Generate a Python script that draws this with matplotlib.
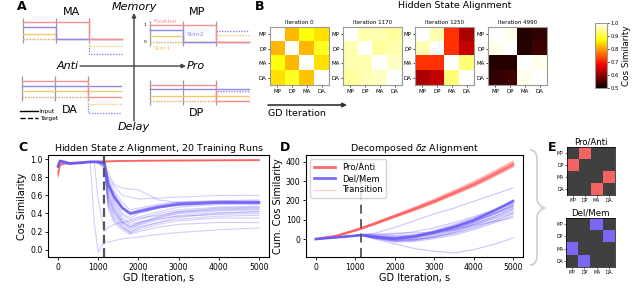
import matplotlib
matplotlib.use('Agg')
import matplotlib.pyplot as plt
from matplotlib.colors import ListedColormap
from matplotlib.lines import Line2D
from matplotlib.path import Path
from matplotlib.patches import PathPatch

W, H = 640, 298

# ---------------- data ----------------
# panel A: schematic task signals over three epochs
epochs = [0, 1, 2, 3]
quad_tasks = ['MA', 'MP', 'DA', 'DP']
fixation = {'MA': [1, 1, 0], 'MP': [1, 1, 0], 'DA': [1, 1, 0], 'DP': [1, 1, 0]}
stim2 = {'MA': [0.7, 0, 0], 'MP': [0.7, 0, 0], 'DA': [0.69, 0.69, 0.69], 'DP': [0.75, 0.75, 0.75]}
stim1 = {'MA': [0.31, 0, 0], 'MP': [0.35, 0, 0], 'DA': [0.38, 0.38, 0.38], 'DP': [0.32, 0.32, 0.32]}
target2 = {'MA': [0, 0, -0.88], 'MP': [0, 0, 0.65], 'DA': [0, 0, -0.94], 'DP': [0, 0, 0.62]}
target1 = {'MA': [0, 0, -0.44], 'MP': [0, 0, 0.4], 'DA': [0, 0, -0.44], 'DP': [0, 0, 0.0]}

# panel B: hidden state alignment matrices
task_order = ['MP', 'DP', 'MA', 'DA']
iter_labels = ['Iteration 0', 'Iteration 1170', 'Iteration 1250', 'Iteration 4990']
sim_iter0 = [[1.00, 0.82, 0.88, 0.85],
             [0.82, 1.00, 0.82, 0.89],
             [0.88, 0.82, 1.00, 0.85],
             [0.85, 0.89, 0.83, 1.00]]
sim_iter1170 = [[1.00, 0.96, 0.96, 0.95],
                [0.96, 1.00, 0.95, 0.96],
                [0.96, 0.96, 1.00, 0.97],
                [0.95, 0.96, 0.97, 1.00]]
sim_iter1250 = [[1.00, 0.96, 0.72, 0.62],
                [0.96, 1.00, 0.72, 0.64],
                [0.72, 0.72, 1.00, 0.93],
                [0.62, 0.64, 0.93, 1.00]]
sim_iter4990 = [[1.00, 0.99, 0.52, 0.53],
                [0.99, 1.00, 0.52, 0.54],
                [0.52, 0.52, 1.00, 0.99],
                [0.53, 0.54, 0.99, 1.00]]

# panel C: hidden state alignment, 20 runs
c_iters = [0, 50, 300, 600, 800, 900, 1000, 1150, 1250, 1400, 1600, 1800, 2000, 2500, 3000, 4000, 5000]
c_del_runs = [
    [0.92, 0.98, 0.95, 0.96, 0.97, 0.97, 0.97, 0.96, 0.75, 0.62, 0.48, 0.40, 0.44, 0.48, 0.52, 0.53, 0.53],
    [0.91, 0.98, 0.95, 0.96, 0.97, 0.97, 0.97, 0.96, 0.72, 0.58, 0.45, 0.38, 0.42, 0.47, 0.51, 0.53, 0.53],
    [0.93, 0.98, 0.96, 0.96, 0.97, 0.97, 0.97, 0.97, 0.78, 0.65, 0.52, 0.44, 0.46, 0.50, 0.53, 0.54, 0.54],
    [0.92, 0.97, 0.95, 0.96, 0.97, 0.97, 0.97, 0.95, 0.70, 0.55, 0.40, 0.35, 0.40, 0.46, 0.50, 0.52, 0.52],
    [0.92, 0.98, 0.95, 0.96, 0.97, 0.97, 0.97, 0.97, 0.80, 0.70, 0.60, 0.58, 0.56, 0.57, 0.58, 0.60, 0.60],
    [0.91, 0.98, 0.95, 0.96, 0.97, 0.97, 0.97, 0.95, 0.65, 0.50, 0.35, 0.30, 0.33, 0.40, 0.44, 0.47, 0.48],
    [0.92, 0.98, 0.95, 0.96, 0.97, 0.97, 0.96, 0.94, 0.60, 0.45, 0.30, 0.25, 0.30, 0.37, 0.42, 0.45, 0.46],
    [0.92, 0.97, 0.95, 0.96, 0.97, 0.97, 0.96, 0.93, 0.55, 0.40, 0.28, 0.22, 0.28, 0.35, 0.40, 0.43, 0.44],
    [0.93, 0.98, 0.95, 0.96, 0.97, 0.97, 0.97, 0.95, 0.58, 0.42, 0.30, 0.24, 0.27, 0.33, 0.38, 0.41, 0.42],
    [0.92, 0.98, 0.95, 0.96, 0.97, 0.97, 0.97, 0.96, 0.62, 0.47, 0.33, 0.28, 0.30, 0.34, 0.37, 0.39, 0.40],
    [0.92, 0.98, 0.95, 0.96, 0.97, 0.97, 0.96, 0.92, 0.50, 0.35, 0.25, 0.20, 0.25, 0.30, 0.34, 0.37, 0.38],
    [0.91, 0.97, 0.95, 0.96, 0.97, 0.97, 0.96, 0.93, 0.52, 0.38, 0.26, 0.18, 0.22, 0.28, 0.32, 0.35, 0.35],
    [0.92, 0.98, 0.95, 0.96, 0.97, 0.97, 0.95, 0.90, 0.45, 0.30, 0.22, 0.17, 0.20, 0.25, 0.28, 0.30, 0.30],
    [0.92, 0.98, 0.95, 0.96, 0.97, 0.97, 0.97, 0.96, 0.68, 0.52, 0.38, 0.33, 0.36, 0.42, 0.47, 0.50, 0.50],
    [0.93, 0.98, 0.96, 0.96, 0.97, 0.97, 0.97, 0.96, 0.74, 0.60, 0.46, 0.41, 0.44, 0.49, 0.52, 0.54, 0.55],
    [0.92, 0.98, 0.95, 0.96, 0.97, 0.97, 0.96, 0.92, 0.48, 0.32, 0.24, 0.19, 0.24, 0.30, 0.36, 0.40, 0.42],
    [0.92, 0.98, 0.95, 0.96, 0.97, 0.97, 0.97, 0.97, 0.85, 0.72, 0.68, 0.67, 0.66, 0.55, 0.52, 0.53, 0.53],
    [0.92, 0.98, 0.95, 0.96, 0.97, 0.30, -0.03, 0.10, 0.08, 0.10, 0.12, 0.13, 0.14, 0.17, 0.19, 0.22, 0.24],
    [0.92, 0.98, 0.95, 0.96, 0.97, 0.97, 0.55, 0.20, 0.25, 0.28, 0.30, 0.32, 0.35, 0.38, 0.42, 0.46, 0.47],
    [0.92, 0.98, 0.95, 0.96, 0.97, 0.97, 0.96, 0.93, 0.57, 0.43, 0.31, 0.26, 0.29, 0.36, 0.41, 0.44, 0.45],
]
c_del_mean = [0.92, 0.98, 0.95, 0.96, 0.97, 0.97, 0.97, 0.96, 0.72, 0.58, 0.46, 0.40, 0.42, 0.47, 0.50, 0.52, 0.52]

c_red_iters = [0, 50, 150, 300, 600, 1000, 1150, 1500, 2000, 3000, 5000]
c_pro_runs = [
    [0.80, 0.93, 0.95, 0.95, 0.96, 0.97, 0.97, 0.98, 0.98, 0.985, 0.99],
    [0.83, 0.94, 0.95, 0.96, 0.96, 0.97, 0.98, 0.98, 0.985, 0.985, 0.99],
    [0.85, 0.94, 0.96, 0.96, 0.97, 0.97, 0.97, 0.975, 0.98, 0.98, 0.985],
    [0.82, 0.93, 0.94, 0.95, 0.96, 0.96, 0.97, 0.975, 0.98, 0.985, 0.99],
    [0.86, 0.95, 0.96, 0.96, 0.97, 0.975, 0.98, 0.98, 0.985, 0.99, 0.99],
    [0.84, 0.93, 0.95, 0.95, 0.96, 0.97, 0.97, 0.98, 0.98, 0.98, 0.985],
]

# panel D: cumulative decomposed alignment
d_iters = [0, 500, 1000, 1150, 1500, 2000, 2500, 3000, 3500, 4000, 4500, 5000]
d_pro_runs = [
    [0, 16, 48, 58, 85, 125, 165, 207, 252, 298, 350, 404],
    [0, 15, 46, 56, 82, 121, 160, 200, 244, 290, 342, 396],
    [0, 15, 45, 55, 80, 118, 156, 196, 240, 285, 336, 390],
    [0, 14, 44, 54, 78, 115, 152, 191, 234, 278, 328, 380],
    [0, 14, 43, 53, 76, 112, 148, 186, 228, 271, 320, 372],
    [0, 15, 46, 57, 83, 122, 161, 202, 247, 293, 345, 399],
    [0, 14, 44, 53, 77, 114, 150, 188, 231, 274, 324, 376],
]
d_pro_mean = [0, 15, 45, 55, 80, 118, 155, 195, 238, 282, 333, 385]
d_del_runs = [
    [0, 10, 18, 22, 30, 60, 95, 130, 160, 195, 230, 264],
    [0, 8, 17, 20, 10, 5, 20, 45, 75, 110, 150, 200],
    [0, 8, 16, 19, 8, -2, 8, 34, 60, 97, 145, 195],
    [0, 9, 18, 21, 12, 2, 15, 40, 70, 105, 145, 190],
    [0, 7, 15, 18, 5, -8, 0, 22, 48, 85, 130, 180],
    [0, 9, 19, 23, 18, 12, 20, 35, 55, 85, 125, 170],
    [0, 8, 17, 20, 6, -10, -5, 15, 40, 75, 115, 160],
    [0, 10, 20, 24, 22, 18, 22, 32, 50, 80, 115, 155],
    [0, 7, 16, 19, 4, -12, -8, 10, 35, 68, 108, 150],
    [0, 8, 17, 21, 14, 8, 12, 25, 45, 75, 105, 140],
    [0, 9, 18, 22, 10, -5, -2, 12, 32, 60, 95, 135],
    [0, 8, 16, 20, 8, -6, -4, 8, 28, 55, 90, 130],
    [0, 7, 15, 18, 2, -15, -12, 2, 20, 48, 82, 120],
    [0, 9, 19, 24, 25, 30, 32, 35, 48, 70, 90, 110],
    [0, 8, 17, 20, 0, -25, -50, -63, -72, -55, -28, 5],
    [0, 8, 17, 21, 12, 4, 14, 38, 66, 100, 140, 185],
    [0, 9, 18, 22, 16, 10, 18, 36, 62, 95, 135, 175],
    [0, 8, 16, 20, 6, -4, 5, 28, 55, 90, 130, 172],
    [0, 8, 17, 21, 10, 0, 10, 30, 58, 92, 128, 165],
    [0, 10, 19, 23, 20, 25, 38, 58, 85, 115, 150, 185],
]
d_del_mean = [0, 8, 17, 21, 11, 2, 12, 35, 62, 97, 145, 197]
transition_iter = 1150

# panel E: decomposition masks
pro_anti_mask = [[0, 1, 0, 0], [1, 0, 0, 0], [0, 0, 0, 1], [0, 0, 1, 0]]
del_mem_mask = [[0, 0, 1, 0], [0, 0, 0, 1], [1, 0, 0, 0], [0, 1, 0, 0]]

RED = '#ff5a5a'
PURPLE = '#6b5cf6'
FIX_C, STIM2_C, STIM1_C = '#f59090', '#8f86f2', '#f6c76e'


def box(x0, y0, x1, y1):
    # pixel box (top-left origin) -> figure rect
    return [x0 / W, 1 - y1 / H, (x1 - x0) / W, (y1 - y0) / H]


fig = plt.figure(figsize=(6.4, 2.98), dpi=100)


def ftxt(x, y, s, **kw):
    fig.text(x / W, 1 - y / H, s, **kw)


# overlay for arrows / brace
ov = fig.add_axes([0, 0, 1, 1])
ov.set_xlim(0, W)
ov.set_ylim(H, 0)
ov.axis('off')

# ---------------- panel A ----------------
ux, uy = 33, 16.5
anchors = {'MA': (23, 39), 'MP': (150, 42), 'DA': (22, 97), 'DP': (150, 101)}
for task in quad_tasks:
    x0, z0 = anchors[task]
    ax = fig.add_axes(box(x0 - 0.1 * ux, z0 - 1.5 * uy, x0 + 3.05 * ux, z0 + 1.2 * uy))
    ax.set_xlim(-0.1, 3.05)
    ax.set_ylim(-1.2, 1.5)
    ax.axis('off')
    ax.vlines(epochs[:3], -0.25, 1.3, color='#999999', lw=0.9)
    ax.step(epochs, target2[task] + [target2[task][-1]], where='post', color=STIM2_C, lw=0.9, ls=(0, (1.2, 1)))
    ax.step(epochs, target1[task] + [target1[task][-1]], where='post', color=STIM1_C, lw=0.9, ls=(0, (1.2, 1)))
    ax.step(epochs, stim1[task] + [stim1[task][-1]], where='post', color=STIM1_C, lw=1.0)
    ax.step(epochs, stim2[task] + [stim2[task][-1]], where='post', color=STIM2_C, lw=1.0)
    ax.step(epochs, fixation[task] + [fixation[task][-1]], where='post', color=FIX_C, lw=1.0)
    if task == 'MP':
        ax.text(-0.12, 1, '1', fontsize=3.2, ha='right', va='center')
        ax.text(-0.12, 0, '0', fontsize=3.2, ha='right', va='center')
        ax.text(0.1, 1.25, 'Fixation', fontsize=4.3, color=FIX_C, va='center')
        ax.text(1.1, 0.45, 'Stim2', fontsize=4.3, color=STIM2_C, va='center')
        ax.text(0.1, -0.42, 'Stim1', fontsize=4.3, color=STIM1_C, va='center')

ftxt(72, 12, 'MA', fontsize=8, ha='center', va='center')
ftxt(197, 12, 'MP', fontsize=8, ha='center', va='center')
ftxt(70, 110, 'DA', fontsize=8, ha='center', va='center')
ftxt(197, 113, 'DP', fontsize=8, ha='center', va='center')
ftxt(17, 6, 'A', fontsize=9, fontweight='bold', va='center')

arrow_kw = dict(arrowstyle='-|>', color='#404040', lw=1.0, mutation_scale=6, shrinkA=0, shrinkB=0)
ov.annotate('', xy=(134, 13), xytext=(134, 121), arrowprops=arrow_kw)
ov.annotate('', xy=(186, 66), xytext=(80, 66), arrowprops=arrow_kw)
ftxt(134, 7, 'Memory', fontsize=8, style='italic', ha='center', va='center')
ftxt(134, 127, 'Delay', fontsize=8, style='italic', ha='center', va='center')
ftxt(79, 66, 'Anti', fontsize=8, style='italic', ha='right', va='center')
ftxt(187, 66, 'Pro', fontsize=8, style='italic', ha='left', va='center')

ov.legend(handles=[Line2D([], [], color='k', lw=1), Line2D([], [], color='k', lw=1, ls='--')],
          labels=['Input', 'Target'], loc='upper left', bbox_to_anchor=(20 / W, 1 - 109 / H),
          fontsize=4.2, frameon=False, handlelength=3.0, handletextpad=0.4,
          labelspacing=0.25, borderpad=0, borderaxespad=0)

# ---------------- panel B ----------------
ftxt(255, 6, 'B', fontsize=9, fontweight='bold', va='center')
ftxt(455, 6, 'Hidden State Alignment', fontsize=6.8, ha='center', va='center')
mats = [sim_iter0, sim_iter1170, sim_iter1250, sim_iter4990]
hm_x = [270, 343, 415, 488]
for xs, m, lab in zip(hm_x, mats, iter_labels):
    ax = fig.add_axes(box(xs, 25, xs + 59, 87))
    im = ax.imshow(m, cmap='hot', vmin=0.5, vmax=1.0)
    ax.set_title(lab, fontsize=4, pad=1.5)
    ax.set_xticks(range(4))
    ax.set_xticklabels(task_order)
    ax.set_yticks(range(4))
    ax.set_yticklabels(task_order)
    ax.tick_params(labelsize=4, length=1.5, width=0.5, pad=1)
    for s in ax.spines.values():
        s.set_color('#999999')
        s.set_linewidth(0.8)
cax = fig.add_axes(box(595, 23, 607, 88))
cb = fig.colorbar(im, cax=cax)
cb.set_ticks([0.5, 0.6, 0.7, 0.8, 0.9, 1.0])
cax.tick_params(labelsize=3.8, length=1.5, width=0.5, pad=1)
cb.outline.set_edgecolor('#999999')
cb.set_label('Cos Similarity', fontsize=6.3, labelpad=2)

ov.annotate('', xy=(347, 105), xytext=(268, 105),
            arrowprops=dict(arrowstyle='-|>', color='#333333', lw=1.2, mutation_scale=6, shrinkA=0, shrinkB=0))
ftxt(268, 114, 'GD Iteration', fontsize=6.8, ha='left', va='center')

# ---------------- panel C ----------------
axc = fig.add_axes(box(48, 155, 269, 257))
for run in c_pro_runs:
    axc.plot(c_red_iters, run, color=RED, lw=0.9, alpha=0.45)
for run in c_del_runs:
    axc.plot(c_iters, run, color=PURPLE, lw=0.8, alpha=0.3)
axc.plot(c_iters, c_del_mean, color=PURPLE, lw=2.0, alpha=0.85)
axc.axvline(transition_iter, color='#555555', lw=1.6, ls=(0, (4, 2)))
axc.set_xlim(-250, 5250)
axc.set_ylim(-0.08, 1.045)
axc.set_xticks([0, 1000, 2000, 3000, 4000, 5000])
axc.set_yticks([0.0, 0.2, 0.4, 0.6, 0.8, 1.0])
axc.tick_params(labelsize=5.6, length=2.5, width=0.6, pad=1.5)
axc.set_ylabel('Cos Similarity', fontsize=7, labelpad=2)
axc.set_xlabel('GD Iteration, s', fontsize=7, labelpad=1)
axc.set_title('Hidden State $z$ Alignment, 20 Training Runs', fontsize=6.8, pad=3)
ftxt(18, 148, 'C', fontsize=9, fontweight='bold', va='center')

# ---------------- panel D ----------------
axd = fig.add_axes(box(306, 155, 523, 257))
for run in d_pro_runs:
    axd.plot(d_iters, run, color=RED, lw=0.9, alpha=0.35)
axd.plot(d_iters, d_pro_mean, color=RED, lw=1.8, alpha=0.8)
for run in d_del_runs:
    axd.plot(d_iters, run, color=PURPLE, lw=0.8, alpha=0.35)
axd.plot(d_iters, d_del_mean, color=PURPLE, lw=1.8, alpha=0.85)
axd.axvline(transition_iter, color='#555555', lw=1.3, ls=(0, (5, 3)))
axd.set_xlim(-250, 5250)
axd.set_ylim(-93, 435)
axd.set_xticks([0, 1000, 2000, 3000, 4000, 5000])
axd.set_yticks([0, 100, 200, 300, 400])
axd.tick_params(labelsize=5.6, length=2.5, width=0.6, pad=1.5)
axd.set_ylabel('Cum. Cos Similarity', fontsize=7, labelpad=2)
axd.set_xlabel('GD Iteration, s', fontsize=7, labelpad=1)
axd.set_title(r'Decomposed $\delta z$ Alignment', fontsize=6.8, pad=3)
axd.legend(handles=[Line2D([], [], color=RED, lw=2, alpha=0.9),
                    Line2D([], [], color=PURPLE, lw=2, alpha=0.9),
                    Line2D([], [], color=RED, lw=0.8, alpha=0.3)],
           labels=['Pro/Anti', 'Del/Mem', 'Transition'], loc='upper left',
           fontsize=6, handlelength=2.6, labelspacing=0.3, borderpad=0.4, framealpha=0.8)
ftxt(280, 148, 'D', fontsize=9, fontweight='bold', va='center')

# brace between D and E
verts = [(530, 150), (537, 150), (537, 160), (537, 198), (537, 206), (545, 208),
         (537, 210), (537, 218), (537, 255), (537, 265), (530, 265)]
codes = [Path.MOVETO, Path.CURVE3, Path.CURVE3, Path.LINETO, Path.CURVE3, Path.CURVE3,
         Path.CURVE3, Path.CURVE3, Path.LINETO, Path.CURVE3, Path.CURVE3]
ov.add_patch(PathPatch(Path(verts, codes), fill=False, edgecolor='#d0d0d0', lw=1.3))

# ---------------- panel E ----------------
ftxt(548, 148, 'E', fontsize=9, fontweight='bold', va='center')
for (y0, y1), mask, col, lab in [((147, 195), pro_anti_mask, '#f26464', 'Pro/Anti'),
                                 ((218, 267), del_mem_mask, '#7b68f2', 'Del/Mem')]:
    ax = fig.add_axes(box(566, y0, 615, y1))
    ax.imshow(mask, cmap=ListedColormap(['#404040', col]), vmin=0, vmax=1)
    ax.set_title(lab, fontsize=6.2, pad=2)
    ax.set_xticks(range(4))
    ax.set_xticklabels(task_order)
    ax.set_yticks(range(4))
    ax.set_yticklabels(task_order)
    ax.tick_params(labelsize=3.3, length=1.2, width=0.4, pad=0.8)
    for s in ax.spines.values():
        s.set_linewidth(0.5)

fig.savefig('out.png', dpi=100)
